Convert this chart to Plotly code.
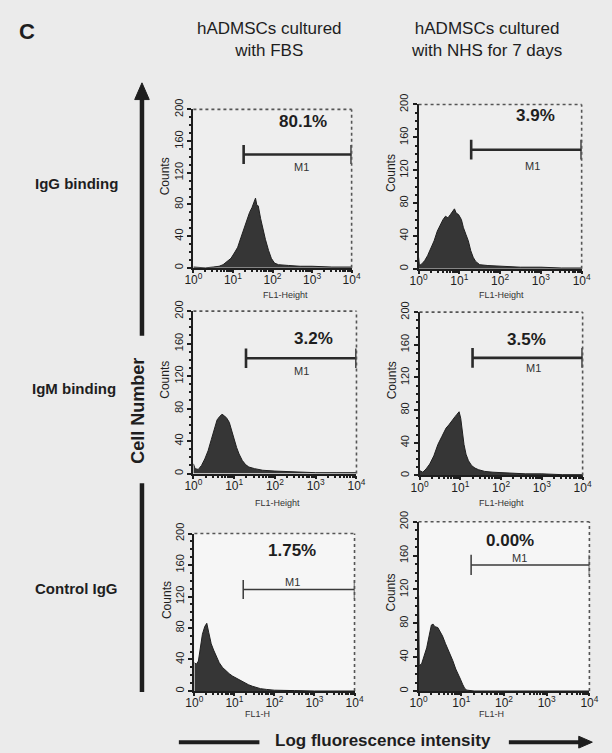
import math
import plotly.graph_objects as go

W, H = 612, 753

# ---------------- data ----------------
# x values: log10 of FL1 fluorescence (axis shows 10^0 .. 10^4); y values: cell counts
logfl_igg_fbs = [0.00, 0.30, 0.50, 0.65, 0.75, 0.85, 0.95, 1.05, 1.12, 1.20, 1.28, 1.35, 1.42, 1.48, 1.53,
                 1.57, 1.60, 1.64, 1.70, 1.76, 1.82, 1.90, 1.97, 2.05, 2.15, 2.40, 2.70, 3.00, 3.50, 4.00]
counts_igg_fbs = [1, 0, 1, 2, 4, 8, 12, 20, 26, 38, 50, 60, 70, 76, 84,
                  88, 80, 78, 62, 48, 36, 22, 12, 6, 4, 3, 2, 2, 1, 1]

logfl_igg_nhs = [0.00, 0.02, 0.08, 0.15, 0.22, 0.30, 0.38, 0.46, 0.53, 0.60, 0.66, 0.72, 0.78, 0.84, 0.88,
                 0.92, 0.98, 1.05, 1.10, 1.16, 1.22, 1.28, 1.34, 1.40, 1.50, 1.70, 2.00, 2.50, 3.00, 3.50, 4.00]
counts_igg_nhs = [14, 4, 6, 10, 16, 24, 34, 46, 54, 60, 64, 62, 66, 70, 73,
                  68, 66, 60, 50, 42, 34, 22, 14, 9, 5, 4, 3, 2, 2, 1, 1]

logfl_igm_fbs = [0.00, 0.04, 0.12, 0.20, 0.28, 0.36, 0.44, 0.52, 0.58, 0.64, 0.70, 0.76, 0.82, 0.88,
                 0.94, 1.00, 1.06, 1.12, 1.20, 1.28, 1.36, 1.50, 1.70, 2.00, 2.50, 3.00, 3.50, 4.00]
counts_igm_fbs = [12, 6, 5, 10, 18, 28, 42, 57, 66, 70, 73, 71, 68, 63,
                  52, 42, 32, 24, 16, 11, 8, 6, 4, 3, 2, 1, 1, 1]

logfl_igm_nhs = [0.00, 0.08, 0.16, 0.25, 0.35, 0.45, 0.55, 0.65, 0.72, 0.80, 0.87, 0.92, 0.97, 1.01,
                 1.05, 1.09, 1.14, 1.20, 1.28, 1.36, 1.45, 1.60, 1.80, 2.20, 2.60, 3.00, 3.50, 4.00]
counts_igm_nhs = [6, 4, 8, 14, 24, 38, 48, 58, 62, 68, 72, 75, 78, 70,
                  54, 38, 26, 18, 12, 9, 7, 5, 4, 3, 2, 2, 1, 1]

logfl_ctrl_fbs = [0.00, 0.05, 0.10, 0.15, 0.20, 0.26, 0.31, 0.36, 0.42, 0.48, 0.55, 0.62, 0.70, 0.78,
                  0.87, 0.95, 1.05, 1.15, 1.25, 1.35, 1.45, 1.55, 1.65, 1.80, 2.00, 2.50, 3.00, 4.00]
counts_ctrl_fbs = [36, 34, 38, 55, 72, 82, 86, 74, 60, 52, 44, 36, 30, 26,
                   22, 19, 16, 13, 10, 8, 6, 4, 3, 2, 1, 0.5, 0, 0]

logfl_ctrl_nhs = [0.00, 0.015, 0.07, 0.13, 0.19, 0.25, 0.30, 0.34, 0.38, 0.45, 0.50, 0.56, 0.63, 0.71,
                  0.80, 0.87, 0.93, 0.98, 1.03, 1.08, 1.13, 1.30, 4.00]
counts_ctrl_nhs = [113, 30, 32, 42, 51, 66, 78, 79, 76, 75, 70, 65, 56, 47,
                   36, 26, 20, 14, 8, 3, 1, 0, 0]

pct_labels = ["80.1%", "3.9%", "3.2%", "3.5%", "1.75%", "0.00%"]
gate_start = [1.27, 1.29, 1.29, 1.30, 1.22, 1.23]   # log10 FL1, M1 marker left end
gate_end = [4.0, 4.0, 4.0, 4.0, 4.0, 4.0]
gate_level = [143, 145, 142, 144, 129, 149]

x_tick_vals = [0, 1, 2, 3, 4]
x_tick_text = ["10<sup>0</sup>", "10<sup>1</sup>", "10<sup>2</sup>", "10<sup>3</sup>", "10<sup>4</sup>"]
y_tick_vals = [0, 40, 80, 120, 160, 200]
x_titles = ["FL1-Height", "FL1-Height", "FL1-Height", "FL1-Height", "FL1-H", "FL1-H"]

col_titles = ["hADMSCs cultured<br>with FBS", "hADMSCs cultured<br>with NHS for 7 days"]
row_titles = ["IgG binding", "IgM binding", "Control IgG"]

series_x = [logfl_igg_fbs, logfl_igg_nhs, logfl_igm_fbs, logfl_igm_nhs, logfl_ctrl_fbs, logfl_ctrl_nhs]
series_y = [counts_igg_fbs, counts_igg_nhs, counts_igm_fbs, counts_igm_nhs, counts_ctrl_fbs, counts_ctrl_nhs]

# ---------------- layout geometry (pixels) ----------------
boxes = [  # left, right, top, bottom
    (190, 353, 100, 261),
    (422, 590, 95, 262),
    (190, 358, 305, 470),
    (423, 591, 306, 472),
    (191, 356, 531, 691),
    (422, 598, 519, 691),
]
pct_pos = [(2.78, 185), (2.88, 186), (2.94, 166), (2.63, 167), (2.44, 178), (2.13, 178)]
m1_pos = [(2.73, 127), (2.80, 125), (2.66, 126), (2.79, 131), (2.44, 139), (2.36, 157)]
xlab_pos = [(285, 289), (507, 289), (277, 500), (507, 500), (256, 714), (497, 714)]


def px(x):
    return x / W


def py(y):
    return 1 - y / H


INK = "#1e1e1e"
FONT = "Liberation Sans, Arial, sans-serif"
minor_x = [n + math.log10(k) for n in range(4) for k in range(2, 10)]

fig = go.Figure()
layout = dict(
    width=W, height=H,
    margin=dict(l=0, r=0, t=0, b=0),
    paper_bgcolor="#ebebeb",
    plot_bgcolor="#eeeeee",
    showlegend=False,
    font=dict(family=FONT, color=INK),
)
annotations = []
shapes = []


def note(**kw):
    kw.setdefault("showarrow", False)
    kw.setdefault("xanchor", "center")
    kw.setdefault("yanchor", "middle")
    annotations.append(kw)


for i in range(6):
    sfx = "" if i == 0 else str(i + 1)
    xa, ya = "x" + sfx, "y" + sfx
    l, r, t, b = boxes[i]
    thin = i >= 4

    fig.add_trace(go.Scatter(
        x=series_x[i], y=series_y[i], mode="lines", fill="tozeroy",
        fillcolor="#363636", line=dict(color="#202020", width=1),
        xaxis=xa, yaxis=ya, hoverinfo="skip"))

    lo, hi, lv = gate_start[i], gate_end[i], gate_level[i]
    cap = 12
    fig.add_trace(go.Scatter(
        x=[lo, hi, None, lo, lo, None, hi, hi],
        y=[lv, lv, None, lv - cap, lv + cap, None, lv - cap, lv + cap],
        mode="lines", line=dict(color="#2a2a2a" if not thin else "#3a3a3a", width=1.5 if thin else 2.6),
        xaxis=xa, yaxis=ya, cliponaxis=False, hoverinfo="skip"))

    layout["xaxis" + sfx] = dict(
        domain=[px(l), px(r)], anchor=ya, range=[0, 4],
        tickmode="array", tickvals=x_tick_vals, ticktext=x_tick_text,
        ticks="outside", ticklen=3, tickwidth=1.5, tickcolor=INK,
        ticklabelstandoff=-3,
        tickfont=dict(size=12, family=FONT, color=INK),
        showline=True, linecolor=INK, linewidth=2,
        showgrid=False, zeroline=False, fixedrange=True,
        minor=dict(tickmode="array", tickvals=minor_x, ticks="outside", ticklen=2,
                   tickcolor=INK, showgrid=False),
    )
    layout["yaxis" + sfx] = dict(
        domain=[py(b), py(t)], anchor=xa, range=[0, 200],
        tickmode="array", tickvals=y_tick_vals, tickangle=-90,
        ticks="outside", ticklen=4, tickwidth=1.5, tickcolor=INK,
        tickfont=dict(size=11, family=FONT, color=INK),
        showline=True, linecolor=INK, linewidth=2,
        showgrid=False, zeroline=False, fixedrange=True,
        minor=dict(dtick=10, ticks="outside", ticklen=2, tickcolor=INK, showgrid=False),
    )

    if thin:
        shapes.append(dict(type="rect", xref=xa + " domain", yref=ya + " domain",
                           x0=0, x1=1, y0=0, y1=1, fillcolor="#f6f6f6",
                           line=dict(width=0), layer="below"))
    # dotted top / right frame
    for (x0, y0, x1, y1) in [(0, 1, 1, 1), (1, 0, 1, 1)]:
        shapes.append(dict(type="line", xref=xa + " domain", yref=ya + " domain",
                           x0=x0, y0=y0, x1=x1, y1=y1,
                           line=dict(color="#555555", width=1.6, dash="dot")))

    note(x=pct_pos[i][0], y=pct_pos[i][1], xref=xa, yref=ya, text=pct_labels[i],
         font=dict(size=17, family=FONT, color=INK, weight="bold"))
    note(x=m1_pos[i][0], y=m1_pos[i][1], xref=xa, yref=ya, text="M1",
         font=dict(size=11, family=FONT, color="#333333"))
    note(x=0, y=0.58, xref=xa + " domain", yref=ya + " domain", xshift=-28,
         text="Counts", textangle=-90, font=dict(size=12, family=FONT, color=INK))
    note(x=px(xlab_pos[i][0]), y=py(xlab_pos[i][1]), xref="paper", yref="paper",
         text=x_titles[i], font=dict(size=9, family=FONT, color="#333333"))

# column titles
for cx, txt in zip([268, 492], col_titles):
    note(x=px(cx), y=py(29), xref="paper", yref="paper", text=txt, align="center",
         font=dict(size=17, family=FONT, color=INK))
# row titles
for (cx, cy), txt in zip([(70, 175), (67, 384), (70, 587)], row_titles):
    note(x=px(cx), y=py(cy), xref="paper", yref="paper", text=txt,
         font=dict(size=15, family=FONT, color=INK, weight="bold"))
# panel letter
note(x=px(19), y=py(21), xref="paper", yref="paper", text="C",
     font=dict(size=22, family=FONT, color=INK, weight="bold"))
# Cell Number
note(x=px(132), y=py(406), xref="paper", yref="paper", text="Cell Number", textangle=-90,
     font=dict(size=18, family=FONT, color=INK, weight="bold"))
# Log fluorescence intensity
note(x=px(385), y=py(741), xref="paper", yref="paper", text="Log fluorescence intensity",
     font=dict(size=17, family=FONT, color=INK, weight="bold"))

# arrows (paper coords)
AX = 137
shapes += [
    dict(type="line", xref="paper", yref="paper", x0=px(AX), x1=px(AX), y0=py(330), y1=py(88),
         line=dict(color=INK, width=4.5)),
    dict(type="path", xref="paper", yref="paper",
         path=f"M {px(AX-7.5)} {py(90)} L {px(AX+7.5)} {py(90)} L {px(AX)} {py(73)} Z",
         fillcolor=INK, line=dict(color=INK, width=1)),
    dict(type="line", xref="paper", yref="paper", x0=px(AX), x1=px(AX), y0=py(480), y1=py(692),
         line=dict(color=INK, width=4.5)),
    dict(type="line", xref="paper", yref="paper", x0=px(175), x1=px(258), y0=py(743), y1=py(743),
         line=dict(color=INK, width=4)),
    dict(type="line", xref="paper", yref="paper", x0=px(515), x1=px(590), y0=py(743), y1=py(743),
         line=dict(color=INK, width=4)),
    dict(type="path", xref="paper", yref="paper",
         path=f"M {px(587)} {py(737)} L {px(587)} {py(749)} L {px(601)} {py(743)} Z",
         fillcolor=INK, line=dict(color=INK, width=1)),
]

layout["annotations"] = annotations
layout["shapes"] = shapes
fig.update_layout(**layout)
fig.write_html("out.html", post_script="document.body.style.margin='0px';")
